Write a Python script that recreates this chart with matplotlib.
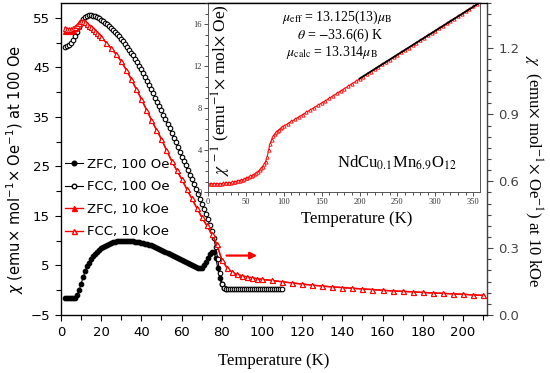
import matplotlib
matplotlib.use('Agg')
import matplotlib.pyplot as plt
from matplotlib.ticker import MultipleLocator, FixedLocator
from matplotlib.lines import Line2D

# ---------------- data ----------------
T_fcc100 = list(range(2, 111))
fcc_100 = [49.2, 49.3, 49.5, 49.9, 50.5, 51.3, 52.2, 53.2, 54.1,
           54.8, 55.2, 55.4, 55.5, 55.5, 55.4, 55.3, 55.1, 54.9, 54.6,
           54.3, 54.0, 53.7, 53.4, 53.0, 52.6, 52.2, 51.8, 51.3, 50.8,
           50.3, 49.8, 49.2, 48.6, 48.0, 47.4, 46.7, 46.0, 45.3, 44.6,
           43.8, 43.0, 42.2, 41.4, 40.6, 39.8, 38.9, 38.1, 37.2, 36.3,
           35.4, 34.5, 33.6, 32.7, 31.8, 30.8, 29.9, 29.0, 28.0, 27.0,
           26.1, 25.2, 24.2, 23.3, 22.4, 21.4, 20.5, 19.5, 18.5, 17.5,
           16.5, 15.4, 14.3, 13.2, 12.0, 10.5, 8.7, 6.3, 3.5, 1.2,
           0.4, 0.2, 0.2, 0.2, 0.2, 0.2, 0.2, 0.2, 0.2, 0.2,
           0.2, 0.2, 0.2, 0.2, 0.2, 0.2, 0.2, 0.2, 0.2, 0.2,
           0.2, 0.2, 0.2, 0.2, 0.2, 0.2, 0.2, 0.2, 0.2, 0.2]

T_zfc100 = list(range(2, 83))
zfc_100 = [-1.6, -1.6, -1.6, -1.6, -1.6, -1.5, -1.0, 0.0, 1.3,
           2.6, 3.8, 4.8, 5.6, 6.3, 6.9, 7.4, 7.8, 8.2, 8.5,
           8.8, 9.0, 9.2, 9.4, 9.55, 9.7, 9.8, 9.9, 9.95, 10.0,
           10.0, 10.0, 10.0, 9.95, 9.9, 9.85, 9.8, 9.75, 9.7, 9.6,
           9.5, 9.4, 9.3, 9.2, 9.05, 8.9, 8.75, 8.6, 8.4, 8.2,
           8.0, 7.8, 7.6, 7.4, 7.2, 7.0, 6.8, 6.6, 6.4, 6.2,
           6.0, 5.8, 5.6, 5.35, 5.1, 4.9, 4.7, 4.5, 4.4, 4.5,
           5.0, 5.7, 6.5, 7.3, 7.8, 7.7, 6.6, 4.5, 2.5, 1.2,
           0.5, 0.2]

T_10k = [2, 3, 4, 5, 6, 7, 8, 9, 10, 11, 12, 13, 14, 15, 16, 17, 18, 19, 20,
         22.5, 25, 27.5, 30, 32.5, 35, 37.5, 40, 42.5, 45, 47.5, 50, 52.5, 55,
         57.5, 60, 62.5, 65, 67.5, 70, 72.5, 75, 77.5, 80, 82.5, 85, 87.5, 90,
         92.5, 95, 97.5, 100,
         105, 110, 115, 120, 125, 130, 135, 140, 145, 150, 155, 160, 165, 170,
         175, 180, 185, 190, 195, 200, 205, 210]
fcc_10k = [1.289, 1.284, 1.282, 1.282, 1.287, 1.293, 1.302, 1.311, 1.318, 1.318,
           1.313, 1.307, 1.298, 1.291, 1.284, 1.276, 1.267, 1.258, 1.247,
           1.222, 1.196, 1.169, 1.138, 1.100, 1.058, 1.013, 0.969, 0.922, 0.876,
           0.831, 0.789, 0.740, 0.693, 0.651, 0.611, 0.567, 0.524, 0.482, 0.440,
           0.402, 0.364, 0.318, 0.249, 0.213, 0.193, 0.182, 0.176, 0.171, 0.167,
           0.163, 0.160,
           0.155, 0.149, 0.144, 0.139, 0.134, 0.130, 0.126, 0.123, 0.120, 0.117,
           0.114, 0.111, 0.108, 0.106, 0.104, 0.101, 0.099, 0.097, 0.095, 0.093,
           0.090, 0.088]
zfc_10k = [1.276, 1.274, 1.274, 1.276, 1.281, 1.288, 1.298, 1.311, 1.318, 1.318,
           1.313, 1.307, 1.298, 1.291, 1.284, 1.276, 1.267, 1.258, 1.247,
           1.222, 1.196, 1.169, 1.138, 1.100, 1.058, 1.013, 0.969, 0.922, 0.876,
           0.831, 0.789, 0.740, 0.693, 0.651, 0.611, 0.567, 0.524, 0.482, 0.440,
           0.402, 0.364, 0.318, 0.249, 0.213, 0.193, 0.182, 0.176, 0.171, 0.167,
           0.163, 0.160,
           0.155, 0.149, 0.144, 0.139, 0.134, 0.130, 0.126, 0.123, 0.120, 0.117,
           0.114, 0.111, 0.108, 0.106, 0.104, 0.101, 0.099, 0.097, 0.095, 0.093,
           0.090, 0.088]

T_inv = list(range(2, 101, 2)) + list(range(105, 356, 5))
inv_chi = [0.78, 0.78, 0.78, 0.78, 0.77, 0.77, 0.78, 0.79, 0.80, 0.81,
           0.82, 0.84, 0.86, 0.88, 0.90, 0.92, 0.95, 0.98, 1.01, 1.05,
           1.09, 1.13, 1.18, 1.23, 1.29, 1.35, 1.42, 1.49, 1.57, 1.65,
           1.74, 1.84, 1.95, 2.08, 2.24, 2.42, 2.63, 2.90, 3.30, 4.00,
           4.60, 5.00, 5.30, 5.50, 5.67, 5.82, 5.95, 6.07, 6.18, 6.28,
           6.50, 6.72, 6.94, 7.16, 7.38, 7.60, 7.82, 8.04, 8.26, 8.48,
           8.70, 8.93, 9.16, 9.39, 9.62, 9.85, 10.08, 10.31, 10.54, 10.77,
           11.00, 11.23, 11.46, 11.69, 11.92, 12.15, 12.38, 12.61, 12.84, 13.07,
           13.30, 13.53, 13.76, 13.99, 14.22, 14.45, 14.68, 14.91, 15.14, 15.37,
           15.60, 15.83, 16.06, 16.29, 16.52, 16.75, 16.98, 17.21, 17.44, 17.67,
           17.90]
T_fit = [200, 358]
inv_fit = [10.8, 18.0]

labels = ['ZFC, 100 Oe', 'FCC, 100 Oe', 'ZFC, 10 kOe', 'FCC, 10 kOe']

# ---------------- figure ----------------
plt.rcParams['font.family'] = ['DejaVu Sans']
SERIF = ['Liberation Serif', 'DejaVu Serif']

fig = plt.figure(figsize=(5.5, 3.73), dpi=100)
W, H = 550.0, 373.0
ax = fig.add_axes([61 / W, 58 / H, 426 / W, 312 / H])
ax2 = ax.twinx()

ax.plot(T_zfc100, zfc_100, '-o', color='black', ms=3.3, mew=0.8, lw=0.8)
ax.plot(T_fcc100, fcc_100, '-o', color='black', mfc='white', ms=3.3, mew=0.8, lw=0.8)
ax2.plot(T_10k, zfc_10k, '-^', color='red', ms=3.6, mew=0.8, lw=1.0)
ax2.plot(T_10k, fcc_10k, '-^', color='red', mfc='white', ms=3.6, mew=0.8, lw=1.0)

ax.set_xlim(0, 212)
ax.set_ylim(-5, 58)
ax2.set_ylim(0, 1.4)

ax.xaxis.set_major_locator(MultipleLocator(20))
ax.xaxis.set_minor_locator(MultipleLocator(10))
ax.yaxis.set_major_locator(FixedLocator([-5, 5, 15, 25, 35, 45, 55]))
ax.yaxis.set_minor_locator(FixedLocator([0, 10, 20, 30, 40, 50]))
ax2.yaxis.set_major_locator(MultipleLocator(0.3))
ax2.yaxis.set_minor_locator(MultipleLocator(0.05))

ax.tick_params(which='both', direction='out', top=False, labelsize=9.5)
ax.tick_params(which='major', length=4.5, width=0.8)
ax.tick_params(which='minor', length=3.5, width=0.8)
ax2.tick_params(which='both', direction='out', labelsize=9.5, colors='#444444')
ax2.tick_params(which='major', length=4.5, width=0.8)
ax2.tick_params(which='minor', length=3.0, width=0.8)
ax2.spines['right'].set_color('#444444')
for s in ax.spines.values():
    s.set_linewidth(0.9)

ax.annotate('', xy=(99, 7), xytext=(81, 7),
            arrowprops=dict(arrowstyle='-|>', color='red', lw=1.6, mutation_scale=10))

handles = [Line2D([], [], color='black', marker='o', ms=3.3, lw=0.8),
           Line2D([], [], color='black', marker='o', mfc='white', ms=3.3, lw=0.8),
           Line2D([], [], color='red', marker='^', ms=3.6, lw=1.0),
           Line2D([], [], color='red', marker='^', mfc='white', ms=3.6, lw=1.0)]
ax2.legend(handles, labels, loc='upper left', bbox_to_anchor=(0.0, 0.517),
           frameon=False, fontsize=9.5, handlelength=1.4, handletextpad=0.3,
           labelspacing=0.72, borderpad=0.0, borderaxespad=0.3)

fig.text(274 / W, 1 - 361 / H, 'Temperature (K)', family=SERIF, fontsize=12,
         ha='center', va='center')
fig.text(15 / W, 1 - 169 / H,
         r'$\chi$ (emu$\times$ mol$^{-1}$$\times$ Oe$^{-1}$) at 100 Oe',
         rotation=90, ha='center', va='center', fontsize=10.5,
         math_fontfamily='dejavusans')
fig.text(533 / W, 1 - 171 / H,
         r'$\chi$  (emu$\times$ mol$^{-1}$$\times$ Oe$^{-1}$) at 10 kOe',
         rotation=270, ha='center', va='center', fontsize=12, family=SERIF,
         math_fontfamily='stix')

# ---------------- inset ----------------
axin = fig.add_axes([208 / W, (H - 192) / H, 272 / W, 189 / H])
axin.set_facecolor('white')
axin.plot(T_inv, inv_chi, '-^', color='red', mfc='white', ms=2.4, mew=0.6, lw=0.8)
axin.plot(T_fit, inv_fit, '-', color='black', lw=1.3)
axin.set_xlim(0, 359)
axin.set_ylim(0, 18)
axin.xaxis.set_major_locator(MultipleLocator(50))
axin.xaxis.set_minor_locator(MultipleLocator(10))
axin.yaxis.set_major_locator(MultipleLocator(4))
axin.yaxis.set_minor_locator(MultipleLocator(1))
axin.tick_params(which='both', direction='out', labelsize=6, colors='#333333',
                 width=0.6, pad=1.5)
axin.tick_params(which='major', length=3)
axin.tick_params(which='minor', length=2)
for lab in axin.get_xticklabels() + axin.get_yticklabels():
    lab.set_family(SERIF)
for s in axin.spines.values():
    s.set_linewidth(0.7)
    s.set_color('#555555')
axin.spines['top'].set_color('black')
axin.spines['top'].set_linewidth(1.0)

axin.text(0.05, 0.54, r'$\chi^{\,-1}$ (emu$^{-1}$$\times$ mol$\times$ Oe)',
          transform=axin.transAxes, rotation=90, ha='center', va='center',
          fontsize=12.5, family=SERIF, math_fontfamily='stix')
fig.text(357 / W, 1 - 219 / H, 'Temperature (K)', family=SERIF, fontsize=12,
         ha='center', va='center')
axin.text(0.474, 0.926, r'$\mu_{\rm eff}$ = 13.125(13)$\mu_{\rm B}$',
          transform=axin.transAxes, ha='center', va='center', fontsize=10,
          family=SERIF, math_fontfamily='stix')
axin.text(0.485, 0.83, r'$\theta$ = $-$33.6(6) K',
          transform=axin.transAxes, ha='center', va='center', fontsize=10,
          family=SERIF, math_fontfamily='stix')
axin.text(0.456, 0.74, r'$\mu_{\rm calc}$ = 13.314$\mu_{\rm B}$',
          transform=axin.transAxes, ha='center', va='center', fontsize=10,
          family=SERIF, math_fontfamily='stix')
axin.text(0.695, 0.153, r'NdCu$_{0.1}$Mn$_{6.9}$O$_{12}$',
          transform=axin.transAxes, ha='center', va='center', fontsize=12,
          family=SERIF, math_fontfamily='stix')

fig.savefig('out.png', dpi=100)
